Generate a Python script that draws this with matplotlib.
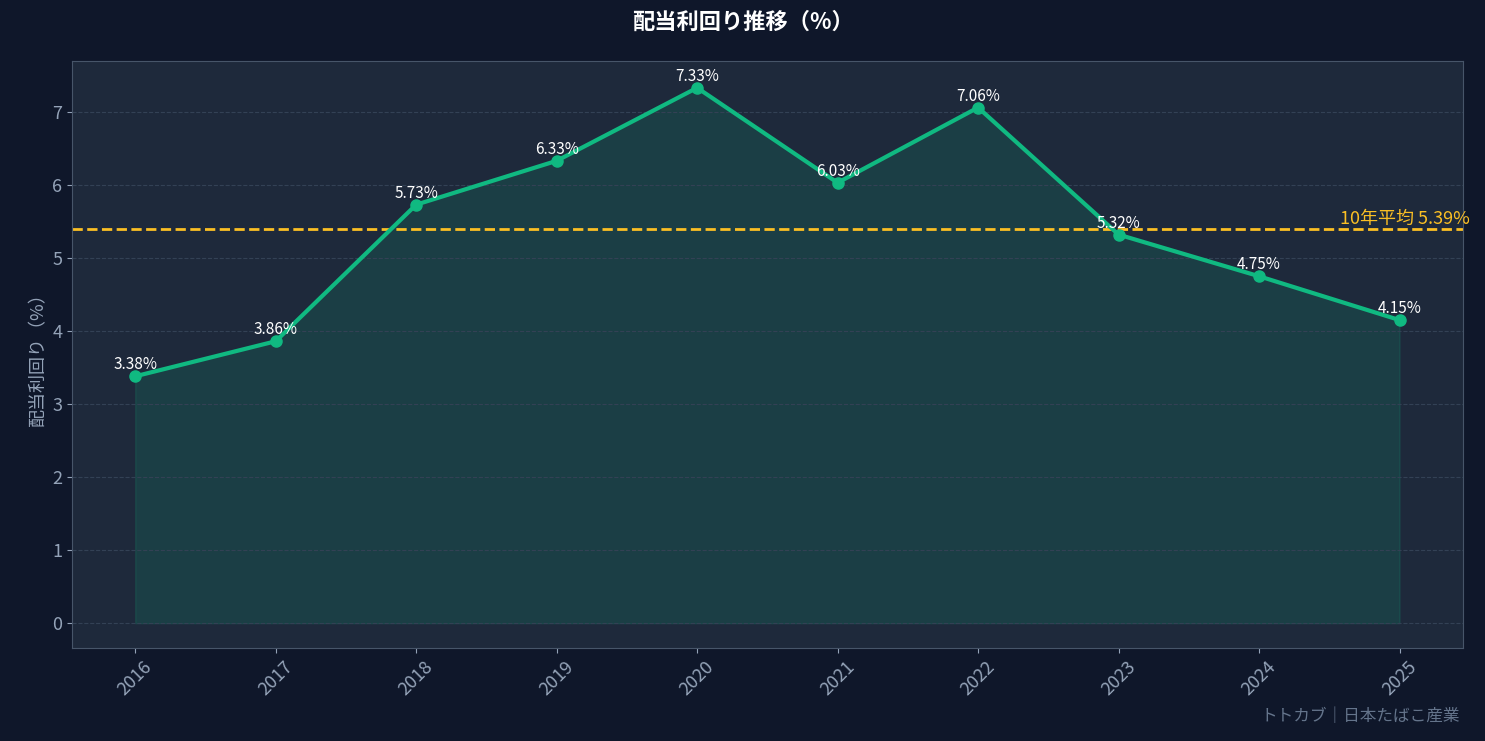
import matplotlib
matplotlib.use("Agg")
import matplotlib.pyplot as plt

plt.rcParams['font.family'] = ['Noto Sans CJK JP', 'DejaVu Sans']

years = [2016, 2017, 2018, 2019, 2020, 2021, 2022, 2023, 2024, 2025]
yields = [3.38, 3.86, 5.73, 6.33, 7.33, 6.03, 7.06, 5.32, 4.75, 4.15]
avg = 5.39

fig = plt.figure(figsize=(14.85, 7.41), dpi=100, facecolor='#0f172a')
ax = fig.add_axes([0.0485, 0.1255, 0.9365, 0.7925], facecolor='#1e293b')

ax.fill_between(years, yields, 0, color='#10b981', alpha=0.15)
ax.plot(years, yields, color='#10b981', lw=3, marker='o', ms=8, zorder=3)
for x, y in zip(years, yields):
    ax.text(x, y + 0.04, f"{y:.2f}%", color='white', fontsize=11, ha='center', va='bottom', zorder=4)

ax.axhline(avg, color='#fbbf24', ls='--', lw=2)
ax.text(2025.5, avg + 0.02, f"10年平均 {avg:.2f}%", color='#fbbf24', fontsize=13, ha='right', va='bottom')

ax.set_xlim(2015.55, 2025.45)
ax.set_ylim(-0.34, 7.7)
ax.set_xticks(years)
ax.set_xticklabels([str(y) for y in years], rotation=45)
ax.set_yticks(range(0, 8))
ax.tick_params(colors='#94a3b8', labelsize=13)
ax.grid(axis='y', color='#334155', ls='--', lw=0.8)
for s in ax.spines.values():
    s.set_color('#475569')
ax.set_ylabel('配当利回り（%）', color='#94a3b8', fontsize=13)
fig.suptitle('配当利回り推移（%）', color='white', fontsize=16, fontweight='bold', y=0.985)
fig.text(0.983, 0.022, 'トトカブ｜日本たばこ産業', color='#64748b', fontsize=12, ha='right', va='bottom')

fig.savefig('out.png', dpi=100, facecolor=fig.get_facecolor())
